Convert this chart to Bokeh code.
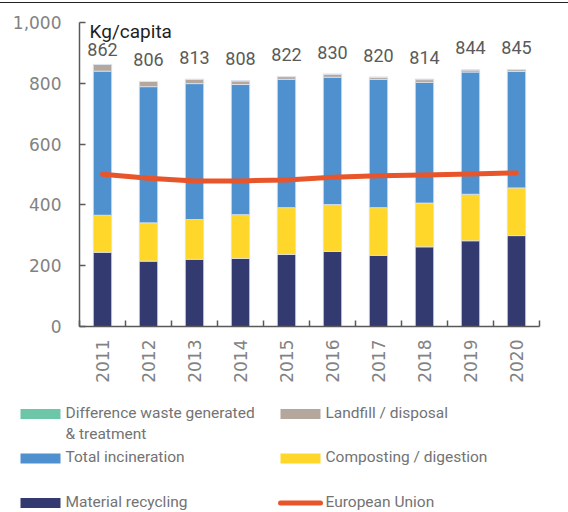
import numpy as np
from bokeh.plotting import figure
from bokeh.models import (Range1d, FixedTicker, NumeralTickFormatter, Label,
                          ColumnDataSource)
from bokeh.layouts import column
from bokeh.embed import file_html
from bokeh.resources import INLINE
from bokeh.core.properties import value

# ---------------- data ----------------
years = [2011, 2012, 2013, 2014, 2015, 2016, 2017, 2018, 2019, 2020]
material_recycling = [244, 215, 221, 224, 237, 247, 234, 262, 282, 299]
composting_digestion = [122, 126, 131, 144, 154, 154, 157, 144, 153, 157]
total_incineration = [474, 448, 447, 428, 422, 419, 422, 397, 402, 383]
landfill_disposal = [22, 17, 14, 12, 9, 10, 7, 9, 7, 6]
difference_generated_treatment = [0, 0, 0, 0, 0, 0, 0, 2, 0, 0]
totals = [862, 806, 813, 808, 822, 830, 820, 814, 844, 845]
european_union = [501, 488, 479, 479, 482, 491, 496, 498, 502, 505]
y_ticks = [0, 200, 400, 600, 800, 1000]
unit_label = "Kg/capita"

legend_order = ["Difference waste generated\n& treatment", "Landfill / disposal",
                "Total incineration", "Composting / digestion",
                "Material recycling", "European Union"]

# ---------------- styles ----------------
C_REC = "#333a70"
C_COMP = "#ffd72a"
C_INC = "#4f91ce"
C_LAND = "#b4a79e"
C_DIFF = "#6cc6a7"
C_EU = "#e8552a"
colors = {"Material recycling": C_REC, "Composting / digestion": C_COMP,
          "Total incineration": C_INC, "Landfill / disposal": C_LAND,
          "Difference waste generated\n& treatment": C_DIFF, "European Union": C_EU}
label_offsets = [-14.5, -22, -22, -22, -22, -22, -22, -22, -22, -22]
AX = "#595959"
FONT = "Roboto"

src = ColumnDataSource(dict(
    year=years,
    rec=material_recycling,
    comp=composting_digestion,
    inc=total_incineration,
    land=landfill_disposal,
    diff=difference_generated_treatment,
))

p = figure(width=568, height=387, x_range=Range1d(2010.5, 2020.5),
           y_range=Range1d(0, 1000), output_backend="svg", toolbar_location=None,
           min_border_left=79, min_border_right=29, min_border_top=19,
           min_border_bottom=64)
p.frame_align = False
p.outline_line_color = None
p.xgrid.visible = False
p.ygrid.visible = False

p.vbar_stack(["rec", "comp", "inc", "land", "diff"], x="year", width=0.4,
             color=[C_REC, C_COMP, C_INC, C_LAND, C_DIFF], source=src,
             line_color="#dde2ee", line_width=0.8)

p.line(years, european_union, line_color=C_EU, line_width=5, line_cap="round",
       line_join="round")

p.text(x=years, y=totals, text=[str(t) for t in totals], text_font=value(FONT),
       text_font_size="18px", text_color="#5a5a5a", text_align="center",
       text_baseline="alphabetic", y_offset=label_offsets)

p.add_layout(Label(x=2010.72, y=969, text=unit_label, text_font=FONT,
                   text_font_size="19px", text_color="#1e1e1e",
                   text_baseline="alphabetic", text_align="left"))

# x axis: labels at centres, ticks between categories
minor = [y - 0.5 for y in years] + [years[-1] + 0.5]
p.xaxis.ticker = FixedTicker(ticks=years, minor_ticks=minor)
p.xaxis.major_tick_in = 0
p.xaxis.major_tick_out = 0
p.xaxis.minor_tick_in = 6
p.xaxis.minor_tick_out = 0
p.xaxis.minor_tick_line_color = AX
p.xaxis.minor_tick_line_width = 1.5
p.xaxis.major_label_orientation = np.pi / 2
p.xaxis.major_label_standoff = 13
p.xaxis.major_label_text_font = "DejaVu Sans"
p.xaxis.major_label_text_font_size = "17px"
p.xaxis.major_label_text_color = "#828282"
p.xaxis.axis_line_color = AX
p.xaxis.axis_line_width = 1.5

p.yaxis.ticker = FixedTicker(ticks=y_ticks)
p.yaxis.formatter = NumeralTickFormatter(format="0,0")
p.yaxis.major_tick_in = 6
p.yaxis.major_tick_out = 0
p.yaxis.minor_tick_in = 0
p.yaxis.minor_tick_out = 0
p.yaxis.major_tick_line_color = AX
p.yaxis.major_tick_line_width = 1.5
p.yaxis.major_label_standoff = 18
p.yaxis.major_label_text_font = "DejaVu Sans"
p.yaxis.major_label_text_font_size = "17px"
p.yaxis.major_label_text_color = "#828282"
p.yaxis.axis_line_color = AX
p.yaxis.axis_line_width = 1.5

# ---------------- legend panel ----------------
LW, LH = 568, 122
q = figure(width=LW, height=LH, x_range=Range1d(0, LW), y_range=Range1d(LH, 0),
           output_backend="svg", toolbar_location=None, min_border=0,
           x_axis_location=None, y_axis_location=None)
q.frame_align = False
q.outline_line_color = None
q.xgrid.visible = False
q.ygrid.visible = False

col_pitch, row_pitch = 260, 44.5
sw_x0, row_y0, sw_w, sw_h, txt_dx = 40, 23.5, 40, 10, 25
cx = [sw_x0 + (i % 2) * col_pitch for i in range(len(legend_order))]
cy = [row_y0 + (i // 2) * row_pitch for i in range(len(legend_order))]
box_idx = [i for i, n in enumerate(legend_order) if n != "European Union"]
q.rect(x=[cx[i] for i in box_idx], y=[cy[i] for i in box_idx], width=sw_w,
       height=sw_h, fill_color=[colors[legend_order[i]] for i in box_idx],
       line_color=None)
eu_i = legend_order.index("European Union")
q.segment(x0=[cx[eu_i] - sw_w / 2], y0=[cy[eu_i]], x1=[cx[eu_i] + sw_w / 2],
          y1=[cy[eu_i]], line_color=C_EU, line_width=5, line_cap="round")
q.text(x=[c + txt_dx for c in cx], y=[c - 10.5 for c in cy], text=legend_order,
       text_font=value(FONT), text_font_size="15.5px", text_color="#737373",
       text_align="left", text_baseline="top", text_line_height=1.18)

layout = column(p, q, spacing=0)
layout.styles = {"margin-top": "2px", "border-top": "1px solid #222"}

open("out.html", "w").write(file_html(layout, INLINE))
